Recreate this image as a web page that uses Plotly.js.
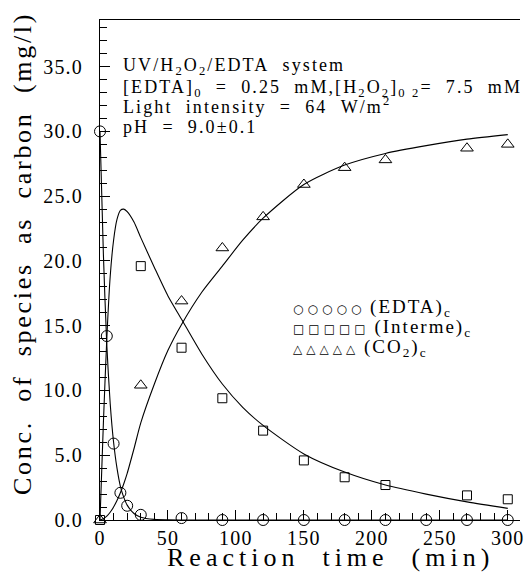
<!DOCTYPE html>
<html>
<head>
<meta charset="utf-8">
<script src="https://cdn.plot.ly/plotly-3.0.1.min.js"></script>
<style>
  html, body { margin: 0; padding: 0; background: #fff; }
  #chart { width: 532px; height: 572px; }
  #chart .xtick text, #chart .ytick text { letter-spacing: 1.2px; }
</style>
</head>
<body>
<div id="chart"></div>
<script>
const timeEDTA = [0, 5, 10, 15, 20, 30, 60, 90, 120, 150, 180, 210, 240, 270, 300];
const edtaC    = [30.0, 14.2, 5.9, 2.1, 1.1, 0.4, 0.15, 0, 0, 0, 0, 0, 0, 0, 0];

const timeProd = [0, 30, 60, 90, 120, 150, 180, 210, 270, 300];
const intermeC = [0, 19.6, 13.3, 9.4, 6.9, 4.6, 3.3, 2.7, 1.9, 1.6];
const co2C     = [0, 10.4, 16.9, 21.0, 23.4, 25.9, 27.2, 27.8, 28.7, 29.0];

// ---- model curves ----
const timeFit    = [0, 2.5, 5, 7.5, 10, 12.5, 15, 17.5, 20, 25, 30, 40, 50, 60, 75, 90, 105, 120, 150, 180, 210, 240, 270, 300];
const edtaFit    = [30, 20.5, 13.5, 9.0, 6.0, 4.0, 2.6, 1.75, 1.15, 0.5, 0.22, 0.05, 0.01, 0, 0, 0, 0, 0, 0, 0, 0, 0, 0, 0];
const intermeFit = [0, 7.5, 14.0, 18.8, 21.6, 23.2, 23.9, 24.0, 23.8, 23.0, 21.8, 19.5, 17.3, 15.5, 12.8, 10.5, 8.7, 7.3, 5.1, 3.7, 2.7, 2.0, 1.4, 0.9];
const co2Fit     = [0, 0.1, 0.3, 0.6, 1.0, 1.5, 2.1, 2.8, 3.6, 5.5, 7.5, 10.5, 13.1, 15.1, 17.6, 19.6, 21.6, 23.3, 25.9, 27.4, 28.3, 28.9, 29.4, 29.75];

const infoLines = [
  'UV/H<sub>2</sub>O<sub>2</sub>/EDTA&nbsp;&nbsp;system',
  '[EDTA]<sub>0</sub>&nbsp;&nbsp;=&nbsp;&nbsp;0.25&nbsp;&nbsp;mM,[H<sub>2</sub>O<sub>2</sub>]<sub>0&nbsp;2</sub>=&nbsp;&nbsp;7.5&nbsp;&nbsp;mM',
  'Light&nbsp;&nbsp;intensity&nbsp;&nbsp;=&nbsp;&nbsp;64&nbsp;&nbsp;W/m<sup>2</sup>',
  'pH&nbsp;&nbsp;=&nbsp;&nbsp;9.0±0.1'
];
const legendSymbols = ['○○○○○', '□□□□□', '△△△△△'];
const legendNames   = ['(EDTA)<sub>c</sub>', '(Interme)<sub>c</sub>', '(CO<sub>2</sub>)<sub>c</sub>'];
const xTitle = 'Reaction&nbsp;&nbsp;time&nbsp;&nbsp;(min)';
const yTitle = 'Conc.&nbsp;&nbsp;of&nbsp;&nbsp;species&nbsp;&nbsp;as&nbsp;&nbsp;carbon&nbsp;&nbsp;(mg/l)';

const FONT = 'Liberation Serif';

const lineStyle = {color: '#000', width: 1.1, shape: 'spline', smoothing: 0.7};
const traces = [
  {x: timeFit, y: edtaFit, mode: 'lines', line: lineStyle, hoverinfo: 'skip'},
  {x: timeFit, y: intermeFit, mode: 'lines', line: lineStyle, hoverinfo: 'skip'},
  {x: timeFit, y: co2Fit, mode: 'lines', line: lineStyle, hoverinfo: 'skip'},
  {x: timeEDTA, y: edtaC, mode: 'markers', cliponaxis: false,
   marker: {symbol: 'circle-open', size: 11, color: '#000', line: {width: 1, color: '#000'}}},
  {x: timeProd, y: intermeC, mode: 'markers', cliponaxis: false,
   marker: {symbol: 'square-open', size: 9, color: '#000', line: {width: 1, color: '#000'}}},
  {x: timeProd, y: co2C, mode: 'markers', cliponaxis: false,
   marker: {symbol: 'triangle-up-open', size: 11, color: '#000', line: {width: 1, color: '#000'}}}
];

// plot area in pixels: left 100, right 520, top 20, bottom 520
const px = x => (x - 100) / 420;
const py = y => 1 - (y - 20) / 500;

const annotations = [];
const infoY = [67, 88, 106, 127];
infoLines.forEach((t, i) => annotations.push({
  xref: 'paper', yref: 'paper', x: px(122), y: py(infoY[i]),
  xanchor: 'left', yanchor: 'middle', showarrow: false, align: 'left', borderpad: 0,
  text: '<span style="letter-spacing:2.1px">' + t + '</span>',
  font: {family: FONT, size: 18, color: '#000'}
}));
const legY = [308, 328, 348];
legendSymbols.forEach((s, i) => annotations.push({
  xref: 'paper', yref: 'paper', x: px(292), y: py(legY[i]),
  xanchor: 'left', yanchor: 'middle', showarrow: false, align: 'left', borderpad: 0,
  text: '<span style="font-family:DejaVu Sans;font-size:12px;letter-spacing:4px">' + s + '</span>&nbsp;' +
        '<span style="letter-spacing:2px">' + legendNames[i] + '</span>',
  font: {family: FONT, size: 19, color: '#000'}
}));
// axis titles
annotations.push({
  xref: 'paper', yref: 'paper', x: px(330), y: py(557),
  xanchor: 'center', yanchor: 'middle', showarrow: false, borderpad: 0,
  text: '<span style="letter-spacing:5px">' + xTitle + '</span>',
  font: {family: FONT, size: 26, color: '#000'}
});
annotations.push({
  xref: 'paper', yref: 'paper', x: px(22), y: py(254), textangle: -90,
  xanchor: 'center', yanchor: 'middle', showarrow: false, borderpad: 0,
  text: '<span style="letter-spacing:2.7px">' + yTitle + '</span>',
  font: {family: FONT, size: 26, color: '#000'}
});

const layout = {
  width: 532, height: 572,
  margin: {l: 100, r: 12, t: 20, b: 52},
  paper_bgcolor: '#fff', plot_bgcolor: '#fff',
  showlegend: false,
  font: {family: FONT, color: '#000'},
  xaxis: {
    range: [0, 309], showgrid: false, zeroline: false,
    showline: true, linecolor: '#000', linewidth: 1, mirror: true,
    ticks: 'inside', ticklen: 10, tickwidth: 1, tickcolor: '#000',
    tick0: 0, dtick: 50,
    minor: {ticks: 'inside', ticklen: 7, dtick: 10, tickcolor: '#000', showgrid: false},
    tickfont: {family: FONT, size: 20, color: '#000'}
  },
  yaxis: {
    range: [0, 38.6], showgrid: false, zeroline: false,
    showline: true, linecolor: '#000', linewidth: 1,
    ticks: 'inside', ticklen: 10, tickwidth: 1, tickcolor: '#000',
    tick0: 0, dtick: 5, tickformat: '.1f',
    minor: {ticks: 'inside', ticklen: 7, dtick: 1, tickcolor: '#000', showgrid: false},
    tickfont: {family: FONT, size: 20, color: '#000'},
    ticklabelstandoff: 12
  },
  annotations: annotations
};

Plotly.newPlot('chart', traces, layout, {displayModeBar: false, staticPlot: true});
</script>
</body>
</html>
